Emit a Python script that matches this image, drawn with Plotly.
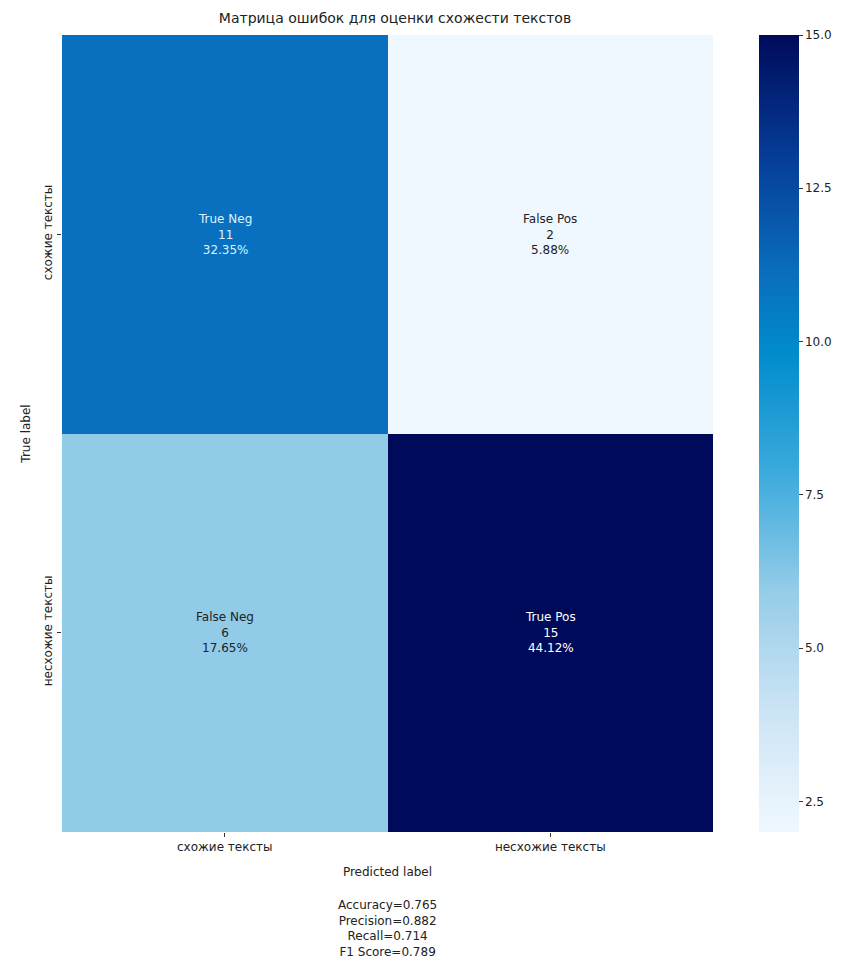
import plotly.graph_objects as go

categories = ["схожие тексты", "несхожие тексты"]
group_names = [["True Neg", "False Pos"], ["False Neg", "True Pos"]]
counts = [[11, 2], [6, 15]]
metrics = {"Accuracy": 0.765, "Precision": 0.882, "Recall": 0.714, "F1 Score": 0.789}
cbar_ticks = [2.5, 5.0, 7.5, 10.0, 12.5, 15.0]

total = sum(sum(r) for r in counts)
zmin = min(min(r) for r in counts)
zmax = max(max(r) for r in counts)

colorscale = [
    [0.0, "rgb(240,248,255)"],
    [0.15, "rgb(205,228,245)"],
    [0.3, "rgb(150,205,232)"],
    [0.45, "rgb(60,170,220)"],
    [0.6, "rgb(0,140,205)"],
    [0.7, "rgb(10,110,190)"],
    [0.85, "rgb(5,60,150)"],
    [1.0, "rgb(0,10,90)"],
]

fig = go.Figure()
fig.add_trace(go.Heatmap(
    z=counts, x=categories, y=categories,
    zmin=zmin, zmax=zmax, colorscale=colorscale,
    xgap=0, ygap=0, hoverinfo="skip",
    colorbar=dict(
        x=1.055, xanchor="left", xref="paper", xpad=10,
        y=0.5, yanchor="middle", len=1.0, lenmode="fraction", ypad=0,
        thickness=40, outlinewidth=0,
        tickvals=cbar_ticks, ticktext=[f"{t:.1f}" for t in cbar_ticks],
        ticks="outside", ticklen=4, tickcolor="#333",
        tickfont=dict(size=12, color="#222", family="DejaVu Sans"),
    ),
))

annotations = []
for i in range(2):
    for j in range(2):
        v = counts[i][j]
        color = "white" if v > (zmin + zmax) / 2 else "#222"
        if i == 0 and j == 0:
            color = "#d8f4ff"
        annotations.append(dict(
            x=categories[j], y=categories[i], xref="x", yref="y",
            text=f"{group_names[i][j]}<br>{v}<br>{v/total*100:.2f}%",
            showarrow=False,
            font=dict(size=12, color=color, family="DejaVu Sans"),
        ))

metric_text = "<br>".join(f"{k}={v:.3f}" for k, v in metrics.items())
annotations.append(dict(
    x=0.5, y=-0.08, xref="paper", yref="paper", xanchor="center", yanchor="top",
    text=metric_text, showarrow=False, align="center",
    font=dict(size=12, color="#222", family="DejaVu Sans"),
))

fig.update_layout(
    width=841, height=965,
    margin=dict(l=62, r=128, t=35, b=133, autoexpand=False),
    paper_bgcolor="white", plot_bgcolor="white",
    font=dict(family="DejaVu Sans", size=12, color="#222"),
    title=dict(text="Матрица ошибок для оценки схожести текстов",
               x=395 / 841, xanchor="center", y=1 - 18 / 965, yanchor="middle",
               font=dict(size=14, color="#222")),
    xaxis=dict(ticks="outside", ticklen=4, tickcolor="#333", showgrid=False,
               zeroline=False, showline=False,
               title=dict(text="Predicted label", standoff=14, font=dict(size=12))),
    yaxis=dict(ticks="outside", ticklen=4, tickcolor="#333", showgrid=False,
               zeroline=False, showline=False, autorange="reversed", tickangle=-90,
               title=dict(text="True label", standoff=8, font=dict(size=12))),
    annotations=annotations,
)

fig.write_html("out.html")
